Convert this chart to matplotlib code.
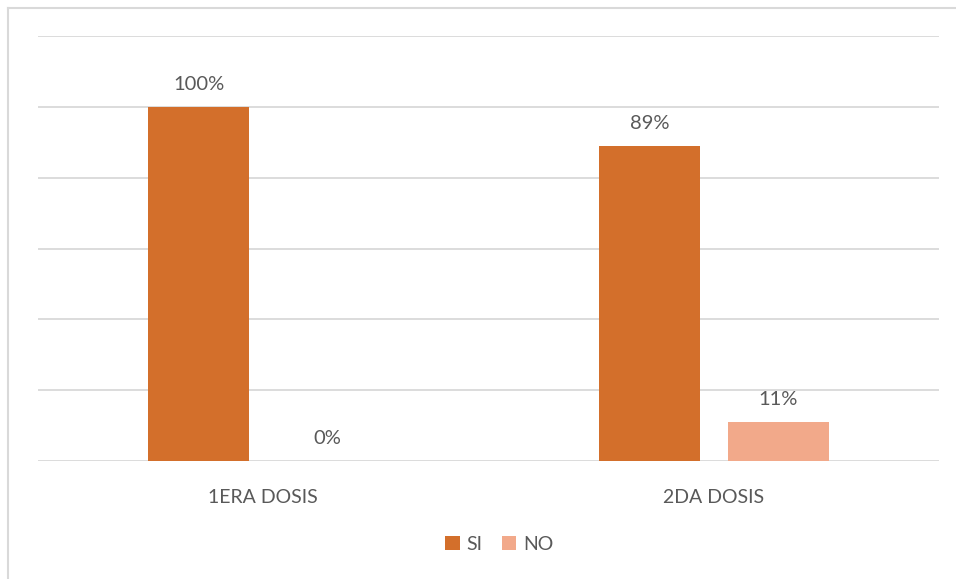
import numpy as np
import matplotlib
matplotlib.use("Agg")
import matplotlib.pyplot as plt
from matplotlib.lines import Line2D

plt.rcParams['font.family'] = ['Lato', 'DejaVu Sans']

categories = ["1ERA DOSIS", "2DA DOSIS"]
si_values = [100, 89]
no_values = [0, 11]
series_names = ["SI", "NO"]

si_color = "#D36F2B"
no_color = "#F2A98A"
text_color = "#595959"
grid_color = "#D9D9D9"

fig = plt.figure(figsize=(9.56, 5.79), dpi=100)
ax = fig.add_axes([38 / 956, 118 / 579, 901 / 956, 425 / 579])

x = np.arange(len(categories))
width = 0.224
offset = 0.143

bars_si = ax.bar(x - offset, si_values, width, color=si_color, label=series_names[0], zorder=3)
bars_no = ax.bar(x + offset, no_values, width, color=no_color, label=series_names[1], zorder=3)

for bars, vals in [(bars_si, si_values), (bars_no, no_values)]:
    for b, v in zip(bars, vals):
        ax.text(b.get_x() + b.get_width() / 2, v + 4, f"{v}%", ha="center", va="bottom",
                fontsize=14.5, color=text_color)

ax.set_xlim(-0.5, 1.5)
ax.set_ylim(0, 120)
ax.set_yticks(np.arange(0, 121, 20))
ax.yaxis.grid(True, color=grid_color, linewidth=1.3, zorder=0)
ax.tick_params(axis="y", left=False, labelleft=False)
ax.tick_params(axis="x", bottom=False, labelsize=14, labelcolor=text_color, pad=17)
ax.set_xticks(x)
ax.set_xticklabels(categories)
for s in ax.spines.values():
    s.set_visible(False)

ax.legend(loc="upper center", bbox_to_anchor=(0.512, -0.135), ncol=2, frameon=False,
          fontsize=14, labelcolor=text_color, handlelength=0.75, handleheight=0.75,
          handletextpad=0.35, columnspacing=1.0)

# light frame on the left and top edges
fig.add_artist(Line2D([7.5 / 956, 7.5 / 956], [0, 1 - 7.5 / 579], color=grid_color, linewidth=1.5))
fig.add_artist(Line2D([7.5 / 956, 1], [1 - 7.5 / 579, 1 - 7.5 / 579], color=grid_color, linewidth=1.5))

fig.savefig("out.png", dpi=100)
